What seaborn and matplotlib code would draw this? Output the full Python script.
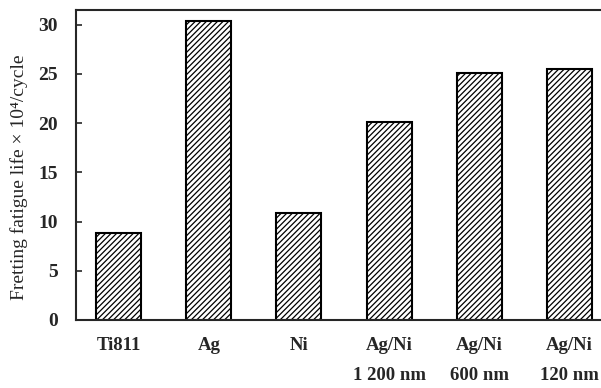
import pandas as pd
import numpy as np
import matplotlib
matplotlib.use('Agg')
import matplotlib.pyplot as plt
import seaborn as sb

coatings = ['Ti811', 'Ag', 'Ni', 'Ag/Ni\n1 200 nm', 'Ag/Ni\n600 nm', 'Ag/Ni\n120 nm']
life = [8.8, 30.4, 10.9, 20.1, 25.1, 25.5]

myData = pd.DataFrame({'coating': coatings, 'life': life})

sb.set_style('ticks')
plt.rcParams['font.family'] = ['Liberation Serif', 'DejaVu Serif']
plt.rcParams['hatch.linewidth'] = 0.9

fig = plt.figure(figsize=(6.01, 3.88), dpi=100)
ax = fig.add_axes([0.1265, 0.1753, 0.875, 0.7989])

sb.barplot(x='coating', y='life', data=myData, color='white',
           edgecolor='black', linewidth=1.5, width=0.5, ax=ax)
for p in ax.patches:
    p.set_hatch('//////')

ax.set_xlim(-0.472, 5.36)
ax.set_ylim(0, 31.5)
ax.set_yticks([0, 5, 10, 15, 20, 25, 30])
ax.tick_params(axis='y', direction='in', length=4, width=1.2, pad=13, labelsize=14)
ax.tick_params(axis='x', length=0, pad=12, labelsize=13.5)
for lbl in ax.get_xticklabels() + ax.get_yticklabels():
    lbl.set_fontweight('bold')
for lbl in ax.get_xticklabels():
    lbl.set_linespacing(2.05)
for s in ax.spines.values():
    s.set_linewidth(1.5)
ax.spines['right'].set_visible(False)

ax.set_xlabel('')
ax.set_ylabel('Fretting fatigue life \u00d7 10\u2074/cycle', fontsize=14)
ax.yaxis.set_label_coords(-0.092, 0.46)

plt.savefig('out.png', dpi=100)
